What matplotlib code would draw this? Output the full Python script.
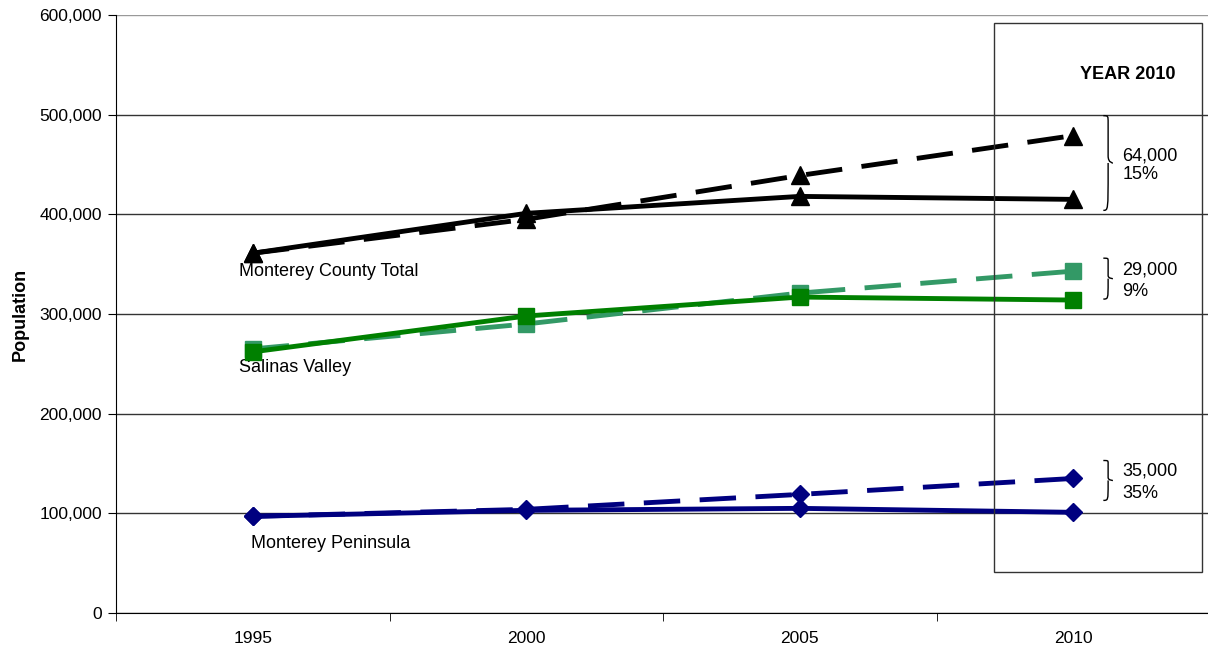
import matplotlib.pyplot as plt
from matplotlib.path import Path
from matplotlib.patches import PathPatch, Rectangle
from matplotlib.ticker import FuncFormatter

plt.rcParams['font.family'] = ['Liberation Sans', 'DejaVu Sans']

# Data
years = ['1995', '2000', '2005', '2010']
county_actual = [361000, 401000, 418000, 415000]
county_proj = [361000, 395000, 439000, 479000]
salinas_actual = [262000, 298000, 317000, 314000]
salinas_proj = [265000, 290000, 321000, 343000]
peninsula_actual = [97000, 103000, 105000, 101000]
peninsula_proj = [97000, 104000, 119000, 135000]

series_labels = ['Monterey County Total', 'Salinas Valley', 'Monterey Peninsula']
diff_labels = ['64,000\n15%', '29,000\n9%', '35,000\n35%']


def draw_brace(ax, x, y0, y1, width, **kw):
    """Curly brace opening to the left, tip pointing right."""
    ym = (y0 + y1) / 2.0
    w = width
    verts = [
        (x, y1), (x + w * 0.5, y1), (x + w * 0.5, y1), (x + w * 0.5, ym + (y1 - ym) * 0.85),
        (x + w * 0.5, ym + (y1 - ym) * 0.15),
        (x + w * 0.5, ym), (x + w, ym), (x + w, ym),
        (x + w * 0.5, ym), (x + w * 0.5, ym), (x + w * 0.5, ym - (ym - y0) * 0.15),
        (x + w * 0.5, y0 + (ym - y0) * 0.85),
        (x + w * 0.5, y0), (x + w * 0.5, y0), (x, y0),
    ]
    codes = [Path.MOVETO, Path.CURVE4, Path.CURVE4, Path.CURVE4,
             Path.LINETO,
             Path.CURVE4, Path.CURVE4, Path.CURVE4,
             Path.MOVETO, Path.CURVE4, Path.CURVE4,
             Path.LINETO,
             Path.CURVE4, Path.CURVE4, Path.CURVE4]
    ax.add_patch(PathPatch(Path(verts, codes), fill=False, **kw))


fig = plt.figure(figsize=(12.08, 6.5), dpi=100)
ax = fig.add_axes([116 / 1208, 1 - 613 / 650, 1094 / 1208, 598 / 650])

x = list(range(len(years)))
lw = 3.5
dash = (7.5, 4)

# projected (dashed) first, actual (solid) on top
ax.plot(x, county_proj, color='black', lw=lw, dashes=dash, marker='^', ms=13, zorder=3)
ax.plot(x, salinas_proj, color='#339966', lw=lw, dashes=dash, marker='s', ms=11, zorder=3)
ax.plot(x, peninsula_proj, color='#000080', lw=lw, dashes=dash, marker='D', ms=9, zorder=3)
ax.plot(x, county_actual, color='black', lw=lw, marker='^', ms=13, zorder=4)
ax.plot(x, salinas_actual, color='#008000', lw=lw, marker='s', ms=11, zorder=4)
ax.plot(x, peninsula_actual, color='#000080', lw=lw, marker='D', ms=9, zorder=4)

ax.set_xlim(-0.5, 3.5)
ax.set_ylim(0, 600000)
ax.set_yticks(range(0, 600001, 100000))
ax.yaxis.set_major_formatter(FuncFormatter(lambda v, p: f'{int(v):,}'))
ax.set_xticks(x)
ax.set_xticklabels(years)
ax.set_xticks([-0.5, 0.5, 1.5, 2.5], minor=True)
ax.tick_params(axis='x', which='major', length=0, pad=13, labelsize=12.5)
ax.tick_params(axis='x', which='minor', length=6, direction='out', color='black')
ax.tick_params(axis='y', length=6, direction='out', labelsize=12.5, pad=4)

ax.grid(axis='y', color='#333333', lw=1)
ax.set_axisbelow(True)
ax.yaxis.get_gridlines()[-1].set_color('#999999')
for s in ['top', 'right']:
    ax.spines[s].set_visible(False)
ax.spines['left'].set_color('black')
ax.spines['bottom'].set_color('black')

ax.set_ylabel('Population', fontweight='bold', fontsize=13, labelpad=8)

# series labels
ax.text(-0.05, 343000, series_labels[0], fontsize=13, va='center', ha='left')
ax.text(-0.05, 246000, series_labels[1], fontsize=13, va='center', ha='left')
ax.text(-0.005, 70000, series_labels[2], fontsize=13, va='center', ha='left')

# YEAR 2010 box
ax.add_patch(Rectangle((2.712, 41000), 0.757, 551000, fill=False,
                       edgecolor='#333333', lw=1, zorder=5, clip_on=False))
ax.text(3.2, 540000, 'YEAR 2010', fontweight='bold', fontsize=13, ha='center', va='center')

# braces with differences
brace_spans = [(404000, 499000), (315000, 356000), (113000, 153000)]
spacings = [1.15, 1.4, 1.4]
for (b0, b1), lab, sp in zip(brace_spans, diff_labels, spacings):
    draw_brace(ax, 3.11, b0, b1, 0.035, color='black', lw=1)
    ax.text(3.18, (b0 + b1) / 2 - 2000, lab, fontsize=13, ha='left', va='center',
            linespacing=sp)

fig.savefig('out.png', dpi=100)
